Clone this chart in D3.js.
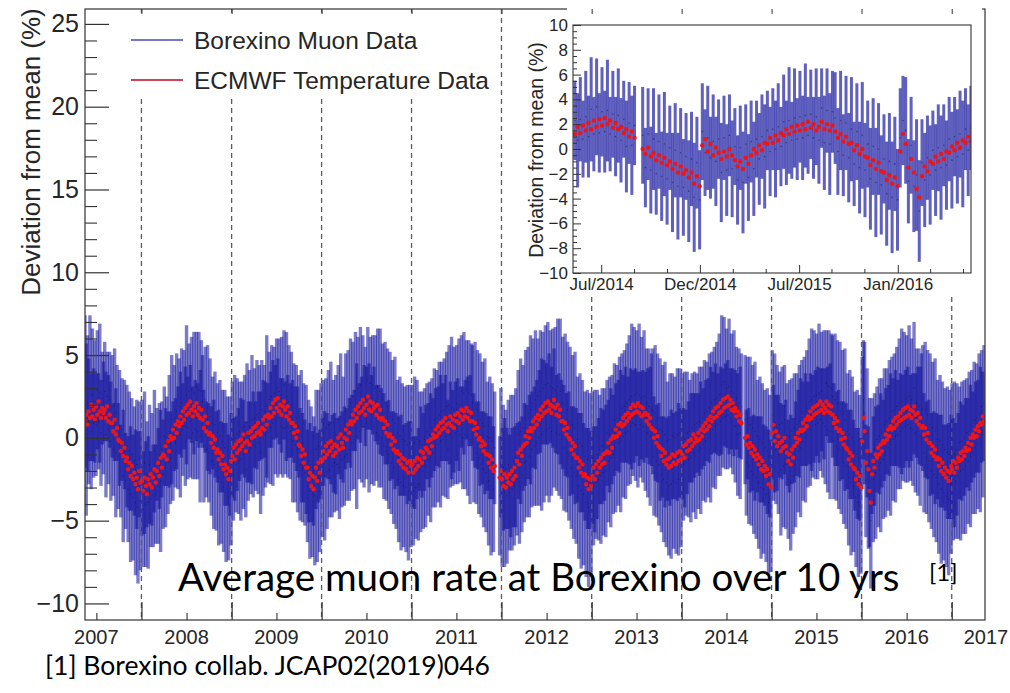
<!DOCTYPE html>
<html>
<head>
<meta charset="utf-8">
<script src="https://cdn.jsdelivr.net/npm/d3@7"></script>
<style>
  html, body { margin: 0; padding: 0; background: #fff; }
  svg { display: block; }
</style>
</head>
<body>
<svg id="chart" width="1010" height="693"></svg>
<script>
// ---------------------------------------------------------------------------
// Data: one row per calendar year. 2007 starts on 17 May, 2017 ends mid-May;
// full years are spread evenly over the year. Values are % deviation from mean.
// ---------------------------------------------------------------------------
const years = [2007, 2008, 2009, 2010, 2011, 2012, 2013, 2014, 2015, 2016, 2017];

// ECMWF effective temperature, expressed as expected muon-rate deviation (%)
const tempDev = [
  [1.0,1.4,0.8, 1.6,1.2,2.0,1.3,1.7,1.1, 1.9,1.4,2.2,1.6,1.2,1.8,1.5, 1.7,1.2,1.9,1.0,1.4,0.9, 0.9,0.4,1.1,0.2,0.6,-0.1, -0.2,-0.8,-0.3,-1.1,-0.6,-1.4, -1.2,-1.9,-1.5,-2.3,-1.7,-2.5, -2.1,-2.8,-2.4,-3.1,-2.0,-2.7],
  [-2.6,-3.2,-2.4,-2.9,-3.4,-2.5, -2.8,-2.2,-3.0,-2.4,-1.9,-2.7, -2.0,-1.5,-2.3,-1.2,-1.8,-1.0, -1.1,-0.5,-1.3,-0.2,-0.8,0.1, -0.1,0.5,0.0,0.8,0.3,1.0, 0.7,1.3,0.9,1.6,1.1,1.8, 1.4,2.0,1.5,2.2,1.7,1.3,1.9, 1.6,2.1,1.4,1.8,1.2,1.7, 1.1,0.6,1.3,0.4,0.9,0.2, 0.3,-0.3,0.1,-0.6,-0.1,-0.9, -0.7,-1.3,-0.9,-1.6,-1.1,-1.9, -1.6,-2.2,-1.8,-2.5,-2.0,-1.4],
  [-1.1,-0.6,-1.3,-0.4,-0.9,-0.2, -0.7,-0.1,-0.5,0.2,-0.3,-0.8, -0.2,0.3,-0.4,0.4,0.0,0.6, 0.1,0.7,0.3,0.9,0.4,0.2, 0.6,1.1,0.5,1.3,0.8,1.4, 1.2,1.8,1.3,2.1,1.5,2.3, 1.8,2.4,1.6,2.0,1.4,1.9,2.2, 1.7,1.3,1.9,1.1,1.5,0.9, 0.9,0.3,0.7,0.0,0.4,-0.4, -0.5,-1.1,-0.7,-1.5,-1.0,-1.8, -1.8,-2.5,-2.1,-2.9,-2.3,-3.1, -2.4,-1.8,-2.6,-1.5,-2.1,-1.3],
  [-1.4,-0.8,-1.2,-0.5,-1.0,-0.3, -0.8,-0.2,-0.6,-1.1,-0.4,-0.9, -0.5,0.0,-0.7,0.2,-0.3,-0.6, 0.0,0.5,-0.1,0.8,0.3,1.0, 0.8,1.4,1.0,1.7,1.2,1.9, 1.5,2.1,1.6,2.3,1.8,1.4, 2.0,2.5,1.7,2.2,1.6,2.1,1.8, 1.9,1.4,2.0,1.2,1.7,1.1, 1.2,0.6,1.0,0.3,0.8,0.1, 0.2,-0.4,0.0,-0.7,-0.2,-0.9, -0.8,-1.4,-1.0,-1.6,-1.2,-1.8, -1.3,-1.9,-1.5,-2.1,-1.4,-1.7],
  [-1.6,-2.1,-1.4,-1.9,-1.2,-1.7, -1.3,-0.8,-1.5,-0.9,-1.2,-0.6, -0.7,-0.2,-0.9,-0.1,-0.5,0.2, 0.0,0.5,0.1,0.7,0.3,0.9, 0.5,1.0,0.6,1.2,0.8,0.4, 0.9,1.3,0.7,1.1,0.6,1.4, 1.0,1.5,0.9,1.3,1.7,1.1,1.6, 1.3,1.8,1.2,1.6,1.0,1.5, 1.0,0.5,0.9,0.2,0.6,-0.1, 0.0,-0.5,-0.2,-0.8,-0.4,-1.0, -1.0,-1.5,-1.1,-1.8,-1.3,-2.0, -1.7,null,null,null,-2.4,-2.0],
  [-2.5,-2.9,-2.2,-3.0,-2.4,-2.7, -2.2,-2.8,-2.0,-2.5,-1.8,-2.3, -1.4,-0.9,-1.6,-0.7,-1.1,-0.5, -0.4,0.1,-0.3,0.4,0.0,0.6, 0.4,1.0,0.6,1.2,0.8,1.4, 1.1,1.7,1.3,1.9,1.5,2.1, 1.6,2.2,1.7,2.0,1.5,1.9,2.3, 1.8,1.4,2.0,1.3,1.7,1.0, 1.0,0.5,0.9,0.2,0.6,0.0, -0.1,-0.7,-0.3,-1.0,-0.5,-1.2, -1.2,-1.8,-1.4,-2.1,-1.6,-2.3, -2.2,-2.8,-2.4,-3.1,-2.5,-2.9],
  [-2.3,-1.8,-2.5,-1.6,-2.1,-1.4, -1.8,-1.2,-1.6,-1.0,-1.5,-0.9, -0.8,-0.3,-0.9,-0.1,-0.6,0.1, 0.0,0.5,0.1,0.8,0.3,0.9, 0.7,1.2,0.8,1.4,1.0,1.5, 1.2,1.8,1.4,2.0,1.5,1.9, 1.6,2.1,1.5,1.9,1.3,1.8,1.4, 1.5,1.0,1.4,0.8,1.2,0.6, 0.5,0.0,0.4,-0.3,0.1,-0.5, -0.6,-1.1,-0.7,-1.4,-0.9,-1.6, -1.3,-1.8,-1.2,-1.7,-1.0,-1.5, -1.1,-1.6,-0.9,-1.4,-0.8,-1.3],
  [-1.0,-0.5,-1.2,-0.4,-0.8,-0.2, -0.7,-0.1,-0.5,0.2,-0.3,0.0, -0.2,0.3,-0.1,0.5,0.1,0.7, 0.4,0.9,0.5,1.1,0.7,1.3, 1.0,1.6,1.2,1.8,1.3,1.9, 1.5,2.1,1.6,2.3,1.8,2.4, 1.9,2.5,2.0,2.3,1.7,2.1,1.6, 1.8,1.3,1.6,1.0,1.4,0.9, null,null,0.0,-0.4,0.1,-0.6, -0.3,-0.9,-0.5,-1.1,-0.7,-1.3, -1.0,-1.6,-1.2,-1.9,-1.4,-2.0, -1.7,-2.3,-1.9,-2.8,-2.2,-3.0],
  [0.3,0.8,-0.2,0.4,-0.5,0.1, -0.3,-0.8,-0.2,-0.6,0.0,-0.5, -0.9,-1.4,-1.0,-1.6,-0.7,-1.2, -0.5,0.0,-0.3,0.3,-0.1,0.5, 0.4,0.9,0.5,1.1,0.7,1.3, 1.1,1.6,1.2,1.8,1.4,1.9, 1.5,2.0,1.6,2.2,1.7,2.0,1.5, 1.8,2.2,1.6,2.0,1.5,1.9, 1.4,0.9,1.2,0.6,1.0,0.4, 0.5,-0.1,0.3,-0.4,0.0,-0.6, -0.7,-1.3,-0.9,-1.6,-1.1,-1.8, -1.9,-2.5,-2.1,-2.8,-2.3,-3.0],
  [-0.2,1.2,0.4,-1.5,-0.8,-1.9, -3.2,-3.9,-2.2,-1.4,-1.8,-1.0, -1.2,-0.6,-1.0,-0.4,-0.8,-0.2, -0.3,0.2,-0.1,0.5,0.1,0.7, 0.5,1.0,0.6,1.2,0.8,1.3, 1.0,1.5,1.1,1.7,1.2,1.8, 1.3,1.9,1.4,1.7,1.2,1.6,1.9, 1.4,1.0,1.5,0.8,1.2,0.6, 0.7,0.2,0.6,-0.1,0.3,-0.3, -0.3,-0.9,-0.5,-1.1,-0.7,-1.3, -1.2,-1.7,-1.3,-2.0,-1.5,-2.2, -1.8,-2.4,-2.0,-2.6,-2.1,-1.7],
  [-1.9,-1.4,-2.1,-1.5,-1.8,-1.2, -1.4,-0.9,-1.3,-0.8,-1.1,-0.6, -0.8,-0.3,-0.7,0.0,-0.4,0.2, 0.0,0.5,0.1,0.7,0.4,0.9, 0.8,1.3,1.0,1.4]
];

// Borexino daily muon rate, % deviation from the ten-year mean
const muonDev = [
  [2.8,0.5,2.1, 1.0,3.0,0.4,2.6,0.9,2.2, 0.8,2.9,1.0,2.7,0.3,2.4,1.2, 2.8,0.2,2.5,0.5,2.3,-0.2, 1.9,-0.7,2.0,-0.9,1.5,-1.1, 0.6,-2.0,0.5,-2.3,0.2,-2.6, -0.5,-3.1,-0.8,-3.4,-1.0,-3.6, -1.4,-3.9,-1.6,-4.2,-1.3,-3.8],
  [-1.8,-4.3,-1.5,-4.0,-2.2,-3.9, -1.6,-3.7,-1.9,-3.5,-0.8,-3.4, -1.0,-2.9,-1.1,-2.6,-0.7,-2.2, 0.1,-1.8,-0.2,-1.5,0.4,-1.2, 1.1,-0.8,1.2,-0.3,1.6,0.0, 1.9,0.2,2.1,0.5,2.3,0.7, 2.6,0.6,2.8,1.0,2.9,0.3,2.7, 0.5,3.1,0.4,2.9,0.1,2.8, 2.2,-0.5,2.3,-0.7,1.8,-0.9, 1.3,-1.4,0.9,-1.6,0.8,-2.0, 0.3,-2.4,0.1,-2.7,-0.2,-3.0, -0.6,-3.3,-0.8,-3.6,-1.1,-2.5],
  [-0.1,-1.9,0.0,-1.6,0.2,-1.4, 0.4,-1.3,0.6,-1.0,0.7,-1.9, 0.9,-0.8,0.7,-0.6,1.1,-0.4, 1.2,-0.5,1.4,-0.3,1.5,-0.9, 1.7,0.0,1.6,0.2,1.9,0.3, 2.3,0.6,2.5,0.9,2.7,1.1, 3.0,1.2,2.8,0.7,2.6,0.6,3.2, 0.6,2.5,0.7,2.2,0.4,2.0, -0.2,1.5,-0.4,1.2,-0.7,0.7, -1.6,0.1,-1.8,-0.3,-2.1,-0.7, -2.9,-1.4,-3.2,-1.6,-3.4,-2.0, -3.5,-0.7,-3.6,-0.5,-3.2,-0.2],
  [-2.4,0.3,-2.3,0.6,-2.0,0.8, -1.9,0.9,-1.7,0.1,-1.5,0.2, -1.6,1.1,-1.8,1.3,-1.3,0.5, -1.1,1.6,-1.0,1.9,-0.7,2.1, -0.3,2.5,-0.1,2.8,0.1,3.0, 0.4,3.2,0.5,3.4,0.7,2.5, 0.9,3.6,0.6,3.3,0.5,3.2,0.7, 3.0,0.3,3.1,0.1,2.8,0.0, 2.3,-0.5,2.1,-0.8,1.9,-1.0, 1.3,-1.5,1.1,-1.8,0.9,-2.0, 0.3,-2.5,0.1,-2.7,-0.1,-2.9, -0.2,-3.0,-0.4,-3.2,-0.3,-2.8],
  [-0.5,-3.2,-0.3,-3.0,-0.1,-2.8, -0.2,-1.9,-0.4,-2.0,-0.1,-1.7, 0.4,-1.3,0.2,-1.2,0.6,-0.9, 1.1,-0.6,1.2,-0.4,1.4,-0.2, 1.6,-0.1,1.7,0.1,1.9,-0.7, 2.0,0.2,1.8,0.0,1.7,0.3, 2.1,0.4,2.0,0.2,2.8,0.0,2.7, 0.2,2.9,0.1,2.7,-0.1,2.6, 2.1,-0.6,2.0,-0.9,1.7,-1.2, 1.1,-1.6,0.9,-1.9,0.7,-2.1, 0.1,-2.6,0.0,-2.9,-0.2,-3.1, -0.6,null,null,null,-3.5,-0.9],
  [-3.6,-1.8,-3.3,-1.9,-3.5,-1.6, -3.3,-1.7,-3.1,-1.4,-2.9,-1.2, -2.5,0.2,-2.7,0.4,-2.2,0.6, -1.5,1.2,-1.4,1.5,-1.1,1.7, -0.7,2.1,-0.5,2.3,-0.3,2.5, 0.0,2.8,0.2,3.0,0.4,3.2, 0.5,3.3,0.6,3.1,0.4,3.0,1.2, 2.9,0.3,3.1,0.2,2.8,-0.1, 2.1,-0.6,2.0,-0.9,1.7,-1.1, 1.0,-1.8,0.8,-2.1,0.6,-2.3, -0.1,-2.9,-0.3,-3.2,-0.5,-3.4, -1.1,-3.9,-1.3,-4.2,-1.4,-4.0],
  [-1.2,-2.9,-1.4,-2.7,-1.0,-2.5, -0.7,-2.3,-0.5,-2.1,-0.4,-2.0, 0.3,-1.4,0.2,-1.2,0.5,-1.0, 1.1,-0.6,1.2,-0.3,1.4,-0.2, 1.8,0.1,1.9,0.3,2.1,0.4, 2.3,0.7,2.5,0.9,2.6,0.8, 2.7,0.5,2.6,0.8,2.4,0.7,2.5, 0.4,2.1,0.3,1.9,0.1,1.7, 1.6,-1.1,1.5,-1.4,1.2,-1.6, 0.5,-2.2,0.4,-2.5,0.2,-2.7, -0.2,-2.9,-0.1,-2.8,0.1,-2.6, 0.0,-2.7,0.2,-2.5,0.3,-2.4],
  [0.1,-1.6,-0.1,-1.5,0.3,-1.3, 0.4,-1.2,0.6,-0.9,0.8,-1.1, 0.9,-0.8,1.0,-0.6,1.2,-0.4, 1.5,-0.2,1.6,0.0,1.8,0.2, 2.1,0.5,2.3,0.7,2.4,0.8, 2.6,1.0,3.2,1.2,3.4,1.3, 3.0,1.4,3.1,1.2,2.8,1.0,2.7, 0.7,2.4,0.2,2.1,0.3,1.9, null,null,1.1,-1.5,1.2,-1.7, 0.8,-2.0,0.6,-2.2,0.4,-2.4, 0.1,-2.7,-0.1,-3.0,-0.3,-3.1, -0.6,-3.4,-0.8,-3.9,-1.1,-4.1],
  [1.4,-0.3,0.9,-0.7,0.6,-1.0, 0.8,-1.9,0.9,-1.7,1.1,-1.6, 0.2,-2.5,0.1,-2.7,0.4,-2.3, 0.6,-1.6,0.8,-0.8,1.0,-0.6, 1.5,-0.2,1.6,0.0,1.8,0.2, 2.2,0.5,2.3,0.7,2.5,0.8, 2.6,0.9,2.7,1.1,2.8,0.9,2.6, 0.7,3.3,0.5,3.1,0.4,3.0, 2.5,-0.2,2.3,-0.5,2.1,-0.7, 1.6,-1.2,1.4,-1.5,1.1,-1.7, 0.4,-2.4,0.2,-2.7,0.0,-2.9, -0.8,-3.6,-1.0,-3.9,-1.2,-4.1],
  [0.9,2.3,1.5,-2.6,0.3,-3.0, -2.1,-5.0,-1.1,-2.5,-0.7,-2.1, -0.1,-1.7,0.1,-1.5,0.3,-1.3, 0.8,-0.9,1.0,-0.6,1.2,-0.4, 1.6,-0.1,1.7,0.1,1.9,0.2, 2.1,0.4,2.2,0.6,2.3,0.7, 2.4,0.8,2.5,0.6,2.3,0.5,3.0, 0.3,2.1,0.4,1.9,0.1,1.7, 1.8,-0.9,1.7,-1.2,1.4,-1.4, 0.8,-2.0,0.6,-2.2,0.4,-2.4, -0.1,-2.8,-0.2,-3.1,-0.4,-3.3, -0.7,-3.5,-0.9,-3.7,-1.0,-2.8],
  [-0.8,-2.5,-1.0,-2.6,-0.7,-2.3, -0.3,-2.0,-0.2,-1.9,0.0,-1.7, 0.3,-1.4,0.4,-1.1,0.7,-0.9, 1.1,-0.6,1.2,-0.4,1.5,-0.1, 1.9,0.2,2.1,0.5]
];

// Statistical error of each muon-rate point (half-length of the bar, %)
const muonErr = [
  [4.6,5.2,4.1,3.8,4.4,3.5,4.0,3.3,3.7,3.1, 3.6,2.9,4.2,3.2,2.8,3.4,3.0,3.8,2.7,3.3, 2.9,3.6,3.1,2.8,3.4,3.9,2.9,3.2,3.5,2.8, 3.1,4.0,3.3,2.9,3.7,3.2,3.6,4.1,3.4,3.8, 3.3,4.4,3.9,4.6,3.5,4.2],
  [4.1,3.5,4.3,3.8,3.2,4.0,3.6,2.9,3.4,3.1, 3.7,3.0,2.8,3.5,3.2,4.3,2.9,3.3,3.0,3.6, 2.7,3.1,3.4,2.8,3.9,3.0,3.2,2.7,3.5,3.1, 2.9,3.8,3.3,2.8,3.0,3.6,4.2,3.1,2.9,3.4, 3.2,2.8,3.7,3.0,3.3,2.9,3.5,4.0,3.1,2.8, 3.4,3.2,2.9,3.8,3.0,3.5,3.3,2.8,3.9,3.2, 3.6,3.0,4.1,3.4,3.7,3.1,3.9,3.5,4.2,3.3, 3.8,3.6,4.0],
  [3.5,3.1,3.8,2.9,3.4,3.2,3.0,3.7,2.8,3.3, 3.1,2.9,3.6,3.0,3.4,2.8,3.9,3.2,3.0,2.7, 3.3,3.1,2.9,3.7,3.0,3.5,2.8,3.2,4.3,3.0, 2.9,3.4,3.1,3.8,2.8,3.3,3.0,3.6,3.2,2.9, 3.5,3.0,3.3,2.8,3.9,3.1,3.4,2.9,3.2,3.7, 3.0,3.5,3.2,3.8,3.1,3.4,4.0,3.3,3.6,3.2, 3.9,3.4,3.7,4.1,3.5,3.8,3.3,4.2,3.6,3.9, 3.4,3.7,3.5],
  [3.6,3.2,3.9,3.0,3.5,3.3,2.9,3.7,3.1,3.4, 3.0,3.6,2.8,3.3,3.1,3.8,2.9,3.2,3.0,3.5, 2.8,3.4,3.1,3.9,2.9,3.3,3.0,3.6,4.4,3.1, 2.9,3.5,3.2,2.8,3.7,3.0,3.4,3.1,3.9,2.8, 3.3,3.0,3.6,3.2,2.9,3.5,3.1,3.8,3.0,3.4, 3.2,3.7,3.0,3.5,3.3,3.9,3.1,3.6,3.4,4.0, 3.5,3.2,3.8,3.6,4.1,3.4,3.7,3.3,3.9,3.6, 4.2,3.5,3.8],
  [3.7,3.3,4.0,3.1,3.6,3.4,3.0,3.8,3.2,3.5, 3.1,3.7,2.9,3.4,3.2,3.9,3.0,3.3,3.1,3.6, 2.9,3.5,3.2,4.0,3.0,3.4,3.1,3.7,3.3,3.0, 3.6,3.2,4.3,2.9,3.8,3.1,3.5,3.2,4.0,2.9, 3.4,3.1,3.7,3.3,3.0,3.6,3.2,3.9,3.1,3.5, 3.3,3.8,3.1,3.6,3.4,4.0,3.2,3.7,3.5,4.1, 3.6,3.3,3.9,3.7,4.2,3.5,3.8,3.4,4.0,3.7, 4.3,3.6,3.9],
  [4.2,3.8,4.5,3.6,4.1,3.9,3.5,4.3,3.7,4.0, 3.6,4.2,3.4,3.9,3.7,4.4,3.5,3.8,3.6,4.1, 3.4,4.0,3.7,4.5,3.5,3.9,3.6,4.2,3.8,3.5, 4.1,3.7,4.6,3.4,4.3,3.6,4.0,3.7,4.5,3.4, 3.9,3.6,4.2,3.8,3.5,4.1,3.7,4.4,3.6,4.0, 3.8,4.3,3.6,4.1,3.9,4.5,3.7,4.2,4.0,4.6, 4.1,3.8,4.4,4.2,4.7,4.0,4.3,3.9,4.5,4.2, 4.8,4.1,4.4],
  [4.0,3.6,4.3,3.4,3.9,3.7,3.3,4.1,3.5,3.8, 3.4,4.0,3.2,3.7,3.5,4.2,3.3,3.6,3.4,3.9, 3.2,3.8,3.5,4.3,3.3,3.7,3.4,4.0,3.6,3.3, 3.9,3.5,4.4,3.2,4.1,3.4,3.8,3.5,4.3,3.2, 3.7,3.4,4.0,3.6,3.3,3.9,3.5,4.2,3.4,3.8, 3.6,4.1,3.4,3.9,3.7,4.3,3.5,4.0,3.8,4.4, 3.9,3.6,4.2,4.0,4.5,3.8,4.1,3.7,4.3,4.0, 4.6,3.9,4.2],
  [3.8,3.4,4.1,3.2,3.7,3.5,3.1,3.9,3.3,3.6, 3.2,3.8,3.0,3.5,3.3,4.0,3.1,3.4,3.2,3.7, 3.0,3.6,3.3,4.1,3.1,3.5,3.2,3.8,3.4,3.1, 3.7,3.3,4.2,3.0,3.9,3.2,3.6,3.3,4.1,3.0, 3.5,3.2,3.8,3.4,3.1,3.7,3.3,4.0,3.2,3.6, 3.4,3.9,3.2,3.7,3.5,4.1,3.3,3.8,3.6,4.2, 3.7,3.4,4.0,3.8,4.3,3.6,3.9,3.5,4.1,3.8, 4.4,3.7,4.0],
  [3.9,3.5,4.2,3.3,3.8,3.6,3.2,4.0,3.4,3.7, 3.3,3.9,3.1,3.6,3.4,4.1,3.2,3.5,3.3,3.8, 3.1,3.7,3.4,4.2,3.2,3.6,3.3,3.9,3.5,3.2, 3.8,3.4,4.3,3.1,4.0,3.3,3.7,3.4,4.2,3.1, 3.6,3.3,3.9,3.5,3.2,3.8,3.4,4.1,3.3,3.7, 3.5,4.0,3.3,3.8,3.6,4.2,3.4,3.9,3.7,4.3, 3.8,3.5,4.1,3.9,4.4,3.7,4.0,3.6,4.2,3.9, 4.5,3.8,4.1],
  [4.0,3.6,4.3,3.4,3.9,3.7,4.5,4.1,3.5,3.8, 3.4,4.0,3.2,3.7,3.5,4.2,3.3,3.6,3.4,3.9, 3.2,3.8,3.5,4.3,3.3,3.7,3.4,4.0,3.6,3.3, 3.9,3.5,4.4,3.2,4.1,3.4,3.8,3.5,4.3,3.2, 3.7,3.4,4.0,3.6,3.3,3.9,3.5,4.2,3.4,3.8, 3.6,4.1,3.4,3.9,3.7,4.3,3.5,4.0,3.8,4.4, 3.9,3.6,4.2,4.0,4.5,3.8,4.1,3.7,4.3,4.0, 4.6,3.9,4.2],
  [4.1,3.7,4.4,3.5,4.0,3.8,3.4,4.2,3.6,3.9, 3.5,4.1,3.3,3.8,3.6,4.3,3.4,3.7,3.5,4.0, 3.3,3.9,3.6,4.4,3.4,3.8,3.5,4.1]
];

// Axis labels
const yearLabels   = ["2007","2008","2009","2010","2011","2012","2013","2014","2015","2016","2017"];
const mainYTicks   = [-10, -5, 0, 5, 10, 15, 20, 25];
const insetYTicks  = [-10, -8, -6, -4, -2, 0, 2, 4, 6, 8, 10];
const insetXLabels = ["Jul/2014", "Dec/2014", "Jul/2015", "Jan/2016"];
const insetXTicks  = ["2014-07-01", "2014-12-30", "2015-07-01", "2015-12-30"];
const legendItems  = ["Borexino Muon Data", "ECMWF Temperature Data"];

// ---------------------------------------------------------------------------
const DAY = 864e5;
const points = [];
years.forEach((yr, r) => {
  const t = tempDev[r], m = muonDev[r], e = muonErr[r];
  let start, step;
  if (r === 0) { start = Date.UTC(2007, 4, 17); step = 5 * DAY; }
  else if (r === years.length - 1) { start = Date.UTC(yr, 0, 2); step = 5 * DAY; }
  else {
    const a = Date.UTC(yr, 0, 1), b = Date.UTC(yr + 1, 0, 1);
    step = (b - a) / t.length; start = a + step / 2;
  }
  t.forEach((tv, k) => points.push({ date: new Date(start + k * step), t: tv, m: m[k], e: e[k] }));
});

const AXIS_FONT = "'Liberation Sans', Arial, Helvetica, sans-serif";
const SLIDE_FONT = "Lato, 'Open Sans', sans-serif";
const INK = "#262626";

const svg = d3.select("#chart");
const defs = svg.append("defs");

// ---------------- main frame ----------------
const M = { left: 85, right: 985, top: 9, bottom: 620 };
const x = d3.scaleUtc().domain([new Date(Date.UTC(2007, 4, 17)), new Date(Date.UTC(2017, 4, 16))]).range([M.left, M.right]);
const y = d3.scaleLinear().domain([-11, 25.9]).range([M.bottom, M.top]);

defs.append("clipPath").attr("id", "clipMain").append("rect")
  .attr("x", M.left).attr("y", M.top).attr("width", M.right - M.left).attr("height", M.bottom - M.top);

function drawSeries(g, xs, ys, opt) {
  const inRange = p => xs.domain()[0] <= p.date && p.date <= xs.domain()[1];
  const bars = points.filter(p => p.m != null && inRange(p));
  const temps = points.filter(p => p.t != null && inRange(p));
  g.append("g").selectAll("line").data(bars).join("line")
    .attr("x1", p => xs(p.date)).attr("x2", p => xs(p.date))
    .attr("y1", p => ys(p.m - p.e)).attr("y2", p => ys(p.m + p.e))
    .attr("stroke", "#0e0e9c").attr("stroke-opacity", opt.barOpacity).attr("stroke-width", opt.barWidth);
  g.append("g").selectAll("circle").data(temps).join("circle")
    .attr("cx", p => xs(p.date)).attr("cy", p => ys(p.t)).attr("r", opt.tempR)
    .attr("fill", "#f21414");
  g.append("g").selectAll("circle").data(bars).join("circle")
    .attr("cx", p => xs(p.date)).attr("cy", p => ys(p.m)).attr("r", opt.dotR)
    .attr("fill", "#0a0a30").attr("fill-opacity", 0.45);
}

const gMain = svg.append("g").attr("clip-path", "url(#clipMain)");
drawSeries(gMain, x, y, { barWidth: 3.4, barOpacity: 0.55, tempR: 2.2, dotR: 0.6 });

// New-year markers
const janDates = d3.range(2008, 2018).map(yr => new Date(Date.UTC(yr, 0, 1)));
svg.append("g").selectAll("line").data(janDates).join("line")
  .attr("x1", d => x(d)).attr("x2", d => x(d)).attr("y1", M.top).attr("y2", M.bottom)
  .attr("stroke", "#5c5c5c").attr("stroke-width", 1.3).attr("stroke-dasharray", "5,4");

// Frame
svg.append("rect").attr("x", M.left).attr("y", M.top).attr("width", M.right - M.left).attr("height", M.bottom - M.top)
  .attr("fill", "none").attr("stroke", "#333").attr("stroke-width", 1.2);

// Y axis: major and minor ticks pointing into the frame
const gy = svg.append("g").attr("transform", `translate(${M.left},0)`)
  .call(d3.axisLeft(y).tickValues(mainYTicks).tickSize(-24).tickPadding(6));
gy.select(".domain").remove();
gy.selectAll(".tick line").attr("stroke", "#333").attr("stroke-width", 1.2);
gy.selectAll(".tick text").attr("font-family", AXIS_FONT).attr("font-size", 25).attr("fill", INK);
const gyMinor = svg.append("g").attr("transform", `translate(${M.left},0)`)
  .call(d3.axisLeft(y).tickValues(d3.range(-10, 26).filter(v => v % 5 !== 0)).tickSize(-12).tickFormat(""));
gyMinor.select(".domain").remove();
gyMinor.selectAll(".tick line").attr("stroke", "#333").attr("stroke-width", 1.1);

// X axis: tall ticks at new year, short ticks with year labels mid-year
const gxMajor = svg.append("g").attr("transform", `translate(0,${M.bottom})`)
  .call(d3.axisBottom(x).tickValues(janDates).tickSize(-18).tickFormat(""));
gxMajor.select(".domain").remove();
gxMajor.selectAll(".tick line").attr("stroke", "#333").attr("stroke-width", 1.2);
const midDates = yearLabels.map(s => new Date(Date.UTC(+s, 6, 2)));
const gxMinor = svg.append("g").attr("transform", `translate(0,${M.bottom})`)
  .call(d3.axisBottom(x).tickValues(midDates.filter(d => d <= x.domain()[1])).tickSize(-7).tickFormat(""));
gxMinor.select(".domain").remove();
gxMinor.selectAll(".tick line").attr("stroke", "#333").attr("stroke-width", 1.1);
svg.append("g").selectAll("text").data(yearLabels).join("text")
  .attr("x", (d, i) => Math.min(x(midDates[i]), 986)).attr("y", 644)
  .attr("text-anchor", "middle").attr("font-family", AXIS_FONT).attr("font-size", 20).attr("fill", INK)
  .text(d => d);

// Y title
svg.append("text").attr("transform", "translate(40,152) rotate(-90)")
  .attr("text-anchor", "middle").attr("font-family", AXIS_FONT).attr("font-size", 26).attr("fill", INK)
  .text("Deviation from mean (%)");

// Legend
const legendColors = ["#7777c9", "#d24458"];
const gl = svg.append("g");
gl.append("rect").attr("x", 112).attr("y", 13).attr("width", 383).attr("height", 84).attr("fill", "#fff");
legendItems.forEach((label, i) => {
  const cy = 40 + i * 40;
  gl.append("line").attr("x1", 131).attr("x2", 183).attr("y1", cy).attr("y2", cy)
    .attr("stroke", legendColors[i]).attr("stroke-width", 2);
  gl.append("text").attr("x", 194).attr("y", cy + 8.5)
    .attr("font-family", AXIS_FONT).attr("font-size", 24.5).attr("fill", INK).text(label);
});

// ---------------- inset ----------------
const I = { left: 573, right: 971, top: 25, bottom: 273 };
svg.append("rect").attr("x", 567).attr("y", 0).attr("width", 415).attr("height", 297).attr("fill", "#fff");

// top ticks of the main frame stay visible above the inset
const gxTop = svg.append("g").attr("transform", `translate(0,${M.top})`)
  .call(d3.axisTop(x).tickValues(janDates).tickSize(-5).tickFormat(""));
gxTop.select(".domain").remove();
gxTop.selectAll(".tick line").attr("stroke", "#444").attr("stroke-width", 1.1);

const xi = d3.scaleUtc().domain([new Date(Date.UTC(2014, 4, 10)), new Date(Date.UTC(2016, 4, 13))]).range([I.left, I.right]);
const yi = d3.scaleLinear().domain([-10, 10]).range([I.bottom, I.top]);

defs.append("clipPath").attr("id", "clipInset").append("rect")
  .attr("x", I.left).attr("y", I.top).attr("width", I.right - I.left).attr("height", I.bottom - I.top);
const gIn = svg.append("g").attr("clip-path", "url(#clipInset)");
drawSeries(gIn, xi, yi, { barWidth: 3.0, barOpacity: 0.66, tempR: 2.2, dotR: 0.8 });

svg.append("rect").attr("x", I.left).attr("y", I.top).attr("width", I.right - I.left).attr("height", I.bottom - I.top)
  .attr("fill", "none").attr("stroke", "#333").attr("stroke-width", 1.1);

const giy = svg.append("g").attr("transform", `translate(${I.left},0)`)
  .call(d3.axisLeft(yi).tickValues(insetYTicks).tickSize(-8).tickPadding(5));
giy.select(".domain").remove();
giy.selectAll(".tick line").attr("stroke", "#333");
giy.selectAll(".tick text").attr("font-family", AXIS_FONT).attr("font-size", 17).attr("fill", INK);
const giyMinor = svg.append("g").attr("transform", `translate(${I.left},0)`)
  .call(d3.axisLeft(yi).tickValues(d3.range(-10, 10.01, 0.5).filter(v => v % 2 !== 0)).tickSize(-4).tickFormat(""));
giyMinor.select(".domain").remove();
giyMinor.selectAll(".tick line").attr("stroke", "#333");

const insetTickDates = insetXTicks.map(s => new Date(s + "T00:00:00Z"));
const gix = svg.append("g").attr("transform", `translate(0,${I.bottom})`)
  .call(d3.axisBottom(xi).tickValues(insetTickDates).tickSize(-8).tickPadding(5)
    .tickFormat((d, i) => insetXLabels[i]));
gix.select(".domain").remove();
gix.selectAll(".tick line").attr("stroke", "#333");
gix.selectAll(".tick text").attr("font-family", AXIS_FONT).attr("font-size", 17).attr("fill", INK);
const thirdSpan = (insetTickDates[1] - insetTickDates[0]) / 3;
const insetMinor = d3.range(-1, 13).map(k => new Date(+insetTickDates[0] + k * thirdSpan))
  .filter((d, i) => (i + 2) % 3 !== 0)
  .filter(d => d >= xi.domain()[0] && d <= xi.domain()[1]);
const gixMinor = svg.append("g").attr("transform", `translate(0,${I.bottom})`)
  .call(d3.axisBottom(xi).tickValues(insetMinor).tickSize(-4).tickFormat(""));
gixMinor.select(".domain").remove();
gixMinor.selectAll(".tick line").attr("stroke", "#333");

svg.append("text").attr("transform", "translate(543,150) rotate(-90)")
  .attr("text-anchor", "middle").attr("font-family", AXIS_FONT).attr("font-size", 19.5).attr("fill", INK)
  .text("Deviation from mean (%)");

// ---------------- slide annotations ----------------
svg.append("text").attr("x", 178).attr("y", 591)
  .attr("font-family", SLIDE_FONT).attr("font-size", 38.5).attr("fill", "#000")
  .text("Average muon rate at Borexino over 10 yrs");
svg.append("text").attr("x", 929).attr("y", 581)
  .attr("font-family", SLIDE_FONT).attr("font-size", 24).attr("fill", "#000")
  .text("[1]");
svg.append("text").attr("x", 45).attr("y", 675)
  .attr("font-family", SLIDE_FONT).attr("font-size", 26.5).attr("fill", "#000")
  .text("[1] Borexino collab. JCAP02(2019)046");
</script>
</body>
</html>
